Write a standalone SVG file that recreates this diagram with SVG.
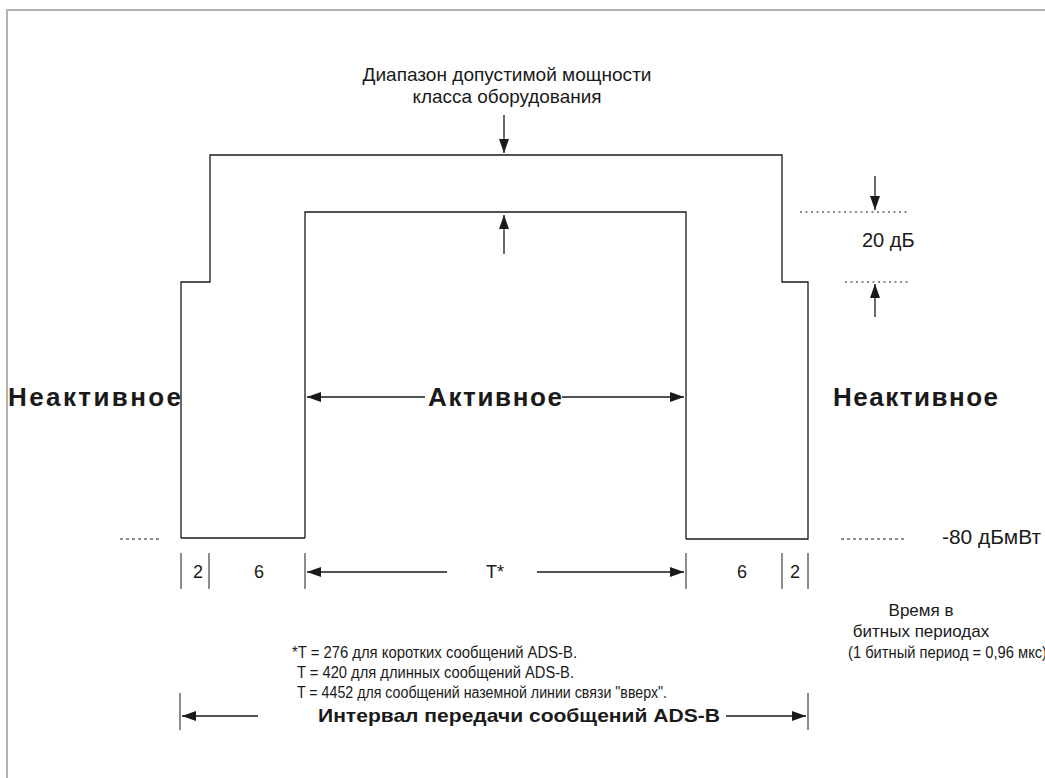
<svg xmlns="http://www.w3.org/2000/svg" width="1045" height="778" viewBox="0 0 1045 778">
<defs>
<marker id="ah" viewBox="0 0 14 10" refX="14" refY="5" markerWidth="14" markerHeight="10" markerUnits="userSpaceOnUse" orient="auto">
<path d="M0,0 L14,5 L0,10 z" fill="#1a1a1a"/>
</marker>
<style>
.ln{fill:none;stroke:#1a1a1a;stroke-width:1.3}
.dot{fill:none;stroke:#1a1a1a;stroke-width:1.2;stroke-dasharray:2 3.5}
.tk{fill:none;stroke:#1a1a1a;stroke-width:1}
.t{font-family:"Liberation Sans",Arial,sans-serif;fill:#1a1a1a}
.b{font-family:"Liberation Sans",Arial,sans-serif;font-weight:bold;fill:#1a1a1a}
</style>
</defs>
<rect width="1045" height="778" fill="#ffffff"/>
<path d="M7,778 V10 H1045" fill="none" stroke="#b4b4b4" stroke-width="2"/>

<g id="outer-envelope">
<path class="ln" d="M181,538 V282 H210 V155 H782 V282 H808 V539 H686"/>
<path class="ln" d="M181,538 H305"/>
</g>
<g id="inner-envelope">
<path class="ln" d="M305,538 V212 H686 V539"/>
</g>

<g id="label-range">
<text class="t" x="507" y="81" font-size="19" text-anchor="middle" textLength="289" lengthAdjust="spacingAndGlyphs">Диапазон допустимой мощности</text>
<text class="t" x="507" y="103" font-size="19" text-anchor="middle" textLength="189" lengthAdjust="spacingAndGlyphs">класса оборудования</text>
</g>
<g id="label-20db">
<path class="dot" d="M800,212 H910"/>
<path class="dot" d="M845,282 H910"/>
<text class="t" x="862" y="247" font-size="20">20 дБ</text>
</g>
<g id="label-inactive-left">
<text class="b" x="8" y="406" font-size="26" textLength="173" lengthAdjust="spacing">Неактивное</text>
</g>
<g id="label-active">
<text class="b" x="428" y="406" font-size="26" textLength="134" lengthAdjust="spacing">Активное</text>
</g>
<g id="label-inactive-right">
<text class="b" x="833" y="406" font-size="26" textLength="165" lengthAdjust="spacing">Неактивное</text>
</g>
<g id="label-minus80">
<path class="dot" d="M120,539 H160" style="stroke-dasharray:3 3"/>
<path class="dot" d="M841,539 H907" style="stroke-dasharray:3 3"/>
<text class="t" x="942" y="544" font-size="20" textLength="99" lengthAdjust="spacingAndGlyphs">-80 дБмВт</text>
</g>
<g id="time-scale">
<path class="tk" d="M181,553 V589 M209,553 V589 M305,553 V589 M686,553 V589 M782,553 V589 M808,553 V589"/>
<text class="t" x="198" y="578" font-size="18" text-anchor="middle">2</text>
<text class="t" x="259" y="578" font-size="18" text-anchor="middle">6</text>
<text class="t" x="495" y="578" font-size="18" text-anchor="middle">T*</text>
<text class="t" x="742" y="578" font-size="18" text-anchor="middle">6</text>
<text class="t" x="795" y="578" font-size="18" text-anchor="middle">2</text>
</g>
<g id="label-time">
<text class="t" x="921" y="616" font-size="17" text-anchor="middle">Время в</text>
<text class="t" x="921" y="637" font-size="17" text-anchor="middle">битных периодах</text>
<text class="t" x="848" y="658" font-size="17" textLength="199" lengthAdjust="spacingAndGlyphs">(1 битный период = 0,96 мкс)</text>
</g>
<g id="notes">
<text class="t" x="292" y="658" font-size="16" textLength="285" lengthAdjust="spacingAndGlyphs">*T = 276 для коротких сообщений ADS-B.</text>
<text class="t" x="297" y="678" font-size="16" textLength="277" lengthAdjust="spacingAndGlyphs">T = 420 для длинных сообщений  ADS-B.</text>
<text class="t" x="297" y="698" font-size="16" textLength="370" lengthAdjust="spacingAndGlyphs">T = 4452 для сообщений наземной линии связи "вверх".</text>
</g>
<g id="label-interval">
<path class="tk" d="M180,693 V730 M808,693 V730"/>
<text class="b" x="318" y="722" font-size="19" textLength="402" lengthAdjust="spacingAndGlyphs">Интервал передачи сообщений ADS-B</text>
</g>

<g id="connectors">
<path class="ln" d="M504,115 V153" marker-end="url(#ah)"/>
<path class="ln" d="M504,254 V215" marker-end="url(#ah)"/>
<path class="ln" d="M875,176 V210" marker-end="url(#ah)"/>
<path class="ln" d="M875,317 V284" marker-end="url(#ah)"/>
<path class="ln" d="M425,397 H307" marker-end="url(#ah)"/>
<path class="ln" d="M562,397 H684" marker-end="url(#ah)"/>
<path class="ln" d="M447,572 H307" marker-end="url(#ah)"/>
<path class="ln" d="M537,572 H684" marker-end="url(#ah)"/>
<path class="ln" d="M258,716 H182" marker-end="url(#ah)"/>
<path class="ln" d="M726,716 H806" marker-end="url(#ah)"/>
</g>
</svg>
